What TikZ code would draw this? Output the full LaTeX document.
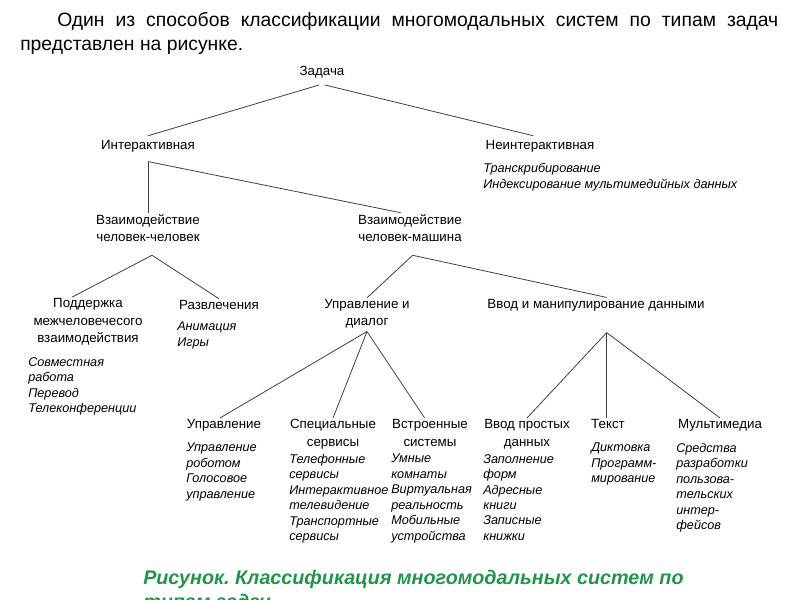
\documentclass[tikz,border=0pt]{standalone}
\usepackage{fontspec}
\setmainfont{Liberation Sans}
\usepackage{xcolor}
\usepackage{tikz}
\usetikzlibrary{calc, positioning}

\definecolor{capgreen}{RGB}{34,150,72}
\frenchspacing

\begin{document}
\begin{tikzpicture}[x=0.75pt, y=-0.75pt,
    lbl/.style={font=\fontsize{10}{13}\selectfont, align=center, inner sep=1pt},
    ex/.style={font=\fontsize{9.5}{11.6}\selectfont\itshape, align=left, inner sep=0pt, anchor=north west},
    conn/.style={draw=black!75, line width=0.6pt}]
    \fill[white] (0,0) rectangle (800,600);
    \useasboundingbox (0,0) rectangle (800,600);
    \clip (0,0) rectangle (800,600);

    % 1. Текст над рисунком
    \node[anchor=west, inner sep=0pt, font=\fontsize{14.5}{20}\selectfont] (hd1) at (57,21)
        {\makebox[540.75pt][s]{Один из способов классификации многомодальных систем по типам задач}};
    \node[anchor=west, inner sep=0pt, font=\fontsize{14.5}{20}\selectfont] (hd2) at (20,47)
        {представлен на рисунке.};

    % 2. Верхние уровни
    \node[lbl] (zad) at (322,72) {Задача};
    \node[lbl] (inter) at (148,146) {Интерактивная};
    \node[lbl] (nonint) at (540,146) {Неинтерактивная};
    \node[ex, font=\fontsize{9.5}{12}\selectfont\itshape] (nonint-ex) at (483,163)
        {Транскрибирование\\Индексирование мультимедийных данных};
    \node[lbl] (hh) at (148,228) {Взаимодействие\\человек-человек};
    \node[lbl] (hm) at (410,228) {Взаимодействие\\человек-машина};

    % 3. Третий уровень
    \node[lbl] (podd) at (88,322) {Поддержка\\межчеловечесого\\взаимодействия};
    \node[ex] (podd-ex) at (28,357) {Совместная\\работа\\Перевод\\Телеконференции};
    \node[lbl] (razv) at (219,305) {Развлечения};
    \node[ex] (razv-ex) at (177,322) {Анимация\\Игры};
    \node[lbl] (ud) at (367,314) {Управление и\\диалог};
    \node[lbl] (vvod) at (596,305) {Ввод и манипулирование данными};

    % 4. Нижний уровень
    \node[lbl, anchor=north] (upr) at (224,418) {Управление};
    \node[ex] (upr-ex) at (186,443) {Управление\\роботом\\Голосовое\\управление};
    \node[lbl, anchor=north] (spec) at (333,418) {Специальные\\сервисы};
    \node[ex] (spec-ex) at (289,454)
        {Телефонные\\сервисы\\Интерактивное\\телевидение\\Транспортные\\сервисы};
    \node[lbl, anchor=north] (vstr) at (430,418) {Встроенные\\системы};
    \node[ex] (vstr-ex) at (391,454)
        {Умные\\комнаты\\Виртуальная\\реальность\\Мобильные\\устройства};
    \node[lbl, anchor=north] (vpd) at (527,418) {Ввод простых\\данных};
    \node[ex] (vpd-ex) at (483,454)
        {Заполнение\\форм\\Адресные\\книги\\Записные\\книжки};
    \node[lbl, anchor=north] (txt) at (608,418) {Текст};
    \node[ex] (txt-ex) at (591,443) {Диктовка\\Программ-\\мирование};
    \node[lbl, anchor=north] (mm) at (720,418) {Мультимедиа};
    \node[ex] (mm-ex) at (676,443)
        {Средства\\разработки\\пользова-\\тельских\\интер-\\фейсов};

    % 5. Связи
    \coordinate (inter-b) at ([yshift=-6pt]inter.south);
    \coordinate (hh-b) at ([xshift=3pt, yshift=-9pt]hh.south);
    \coordinate (hm-b) at ([xshift=2pt, yshift=-9pt]hh.south -| hm.south);
    \coordinate (vvod-b) at ([xshift=8pt, yshift=-15pt]vvod.south);
    \draw[conn] ([xshift=-2pt, yshift=-4pt]zad.south) -- ([yshift=2pt]inter.north);
    \draw[conn] ([xshift=2pt, yshift=-4pt]zad.south) -- ([xshift=-5pt, yshift=2pt]nonint.north);
    \draw[conn] (inter-b) -- (inter-b |- hh.north);
    \draw[conn] (inter-b) -- ([xshift=-7pt]hm.north);
    \draw[conn] (hh-b) -- ([xshift=-12pt]podd.north);
    \draw[conn] (hh-b) -- (razv.north);
    \draw[conn] (hm-b) -- (ud.north);
    \draw[conn] (hm-b) -- ([xshift=8pt]vvod.north);
    \draw[conn] ([yshift=-1pt]ud.south) -- ([xshift=-3pt]upr.north);
    \draw[conn] ([yshift=-1pt]ud.south) -- (spec.north);
    \draw[conn] ([yshift=-1pt]ud.south) -- ([xshift=-4pt]vstr.north);
    \draw[conn] (vvod-b) -- (vpd.north);
    \draw[conn] (vvod-b) -- (vvod-b |- txt.north);
    \draw[conn] (vvod-b) -- (mm.north);

    % 6. Подпись
    \node[anchor=north west, inner sep=0pt, align=left, text=capgreen,
        font=\fontsize{14.8}{18}\selectfont\bfseries\itshape] (cap) at (143,570)
        {Рисунок. Классификация многомодальных систем по\\типам задач};
\end{tikzpicture}
\end{document}
